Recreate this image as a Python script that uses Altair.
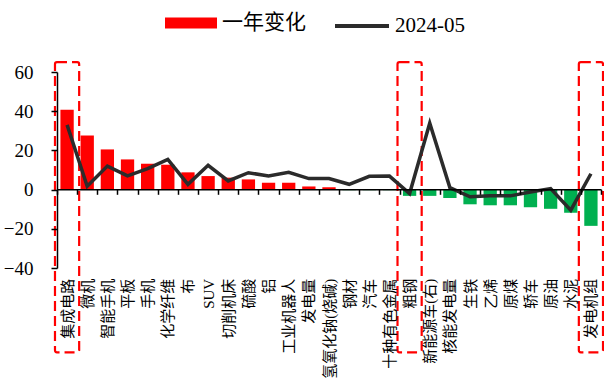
import altair as alt
import pandas as pd

# Industrial output items, ordered as on the axis
categories = [
    "集成电路", "微机", "智能手机", "平板", "手机", "化学纤维", "布", "SUV",
    "切削机床", "硫酸", "铝", "工业机器人", "发电量", "氢氧化钠(烧碱)", "钢材",
    "汽车", "十种有色金属", "粗钢", "新能源车(右)", "核能发电量", "生铁", "乙烯",
    "原煤", "轿车", "原油", "水泥", "发电机组",
]

# One-year change in growth rate (bars)
yoy_change = [
    40.8, 27.6, 20.5, 15.4, 13.2, 12.7, 8.8, 6.9, 6.1, 5.2, 3.5, 3.5, 1.6, 1.2,
    -0.3, -0.3, -0.3, -3.2, -3.2, -4.3, -7.5, -8.0, -8.0, -9.0, -9.8, -11.8, -18.5,
]

# Growth rate in 2024-05 (line)
may_2024 = [
    33.0, 1.7, 12.0, 7.0, 10.7, 15.4, 2.7, 12.4, 4.4, 8.6, 7.0, 8.8, 5.6, 5.6,
    2.7, 6.8, 6.9, -2.0, 33.9, 1.0, -3.7, -3.2, -3.2, -1.2, 0.5, -10.5, 8.1,
]

# Y-axis tick values
y_ticks = [-40, -20, 0, 20, 40, 60]

# Items framed by dashed callout boxes
highlighted = ["集成电路", "粗钢", "发电机组"]
box_top = 65
box_bottom = -83

bar_label = "一年变化"
line_label = "2024-05"

df = pd.DataFrame({
    "item": categories,
    "change": yoy_change,
    "may": may_2024,
    "bar_series": bar_label,
    "line_series": line_label,
})
boxes = pd.DataFrame({
    "item": highlighted,
    "top": [box_top] * len(highlighted),
    "bottom": [box_bottom] * len(highlighted),
})

LABEL_FONT = "Liberation Serif, Noto Sans CJK SC"

x_axis = alt.Axis(
    title=None,
    orient="bottom",
    offset=-78.7,
    domainColor="black",
    domainWidth=1.5,
    tickColor="black",
    tickWidth=1.5,
    tickSize=5,
    tickBand="extent",
    labelAngle=-90,
    labelFont=LABEL_FONT,
    labelFontSize=15,
    labelColor="black",
    labelPadding=84,
    labelOverlap=False,
    labelLimit=0,
    zindex=1,
)
x_scale = alt.Scale(paddingInner=0, paddingOuter=0)

y_scale = alt.Scale(domain=[-40, 60], nice=False)
y_axis = alt.Axis(
    title=None,
    values=y_ticks,
    grid=False,
    domainColor="black",
    domainWidth=1.5,
    tickColor="black",
    tickWidth=1.5,
    tickSize=6,
    labelFont="Liberation Serif",
    labelFontSize=19,
    labelColor="black",
    labelPadding=18,
    labelOverlap=False,
    labelFlush=False,
    zindex=1,
)


def x_enc():
    return alt.X("item:N", sort=categories, scale=x_scale, axis=x_axis)


bars = alt.Chart(df).mark_bar(width=alt.RelativeBandSize(0.66)).encode(
    x=x_enc(),
    y=alt.Y("change:Q", scale=y_scale, axis=y_axis),
    color=alt.condition(
        alt.datum.change < 0,
        alt.value("#00B050"),
        alt.Color(
            "bar_series:N",
            scale=alt.Scale(domain=[bar_label], range=["#FF0000"]),
            legend=alt.Legend(
                title=None,
                orient="none",
                legendX=108,
                legendY=-75,
                padding=0,
                symbolType="M-1,-0.21H1V0.21H-1Z",
                symbolSize=2704,
                symbolStrokeWidth=0,
                symbolOpacity=1,
                labelFont=LABEL_FONT,
                labelFontSize=21,
                labelColor="black",
                labelOffset=5,
            ),
        ),
    ),
)

frames = alt.Chart(boxes).mark_bar(
    width=alt.RelativeBandSize(1.2),
    fillOpacity=0,
    stroke="#FF0000",
    strokeWidth=2.2,
    strokeDash=[10, 5],
    cornerRadius=2,
).encode(
    x=x_enc(),
    y=alt.Y("top:Q", scale=y_scale, axis=y_axis),
    y2="bottom:Q",
)

line = alt.Chart(df).mark_line(strokeWidth=3.5).encode(
    x=x_enc(),
    y=alt.Y("may:Q", scale=y_scale, axis=y_axis),
    stroke=alt.Stroke(
        "line_series:N",
        scale=alt.Scale(domain=[line_label], range=["#2B2B2B"]),
        legend=alt.Legend(
            title=None,
            orient="none",
            legendX=276,
            legendY=-75,
            padding=0,
            symbolType="stroke",
            symbolSize=2916,
            symbolStrokeWidth=4,
            labelFont=LABEL_FONT,
            labelFontSize=21,
            labelColor="black",
            labelOffset=4,
        ),
    ),
)

chart = (
    alt.layer(bars, frames, line)
    .resolve_legend(color="independent", stroke="independent")
    .properties(
        width=544,
        height=196,
        autosize=alt.AutoSizeParams(type="none"),
        padding={"left": 57, "top": 72, "right": 3, "bottom": 115},
        background="white",
    )
    .configure_view(stroke=None)
)

chart.save("out.html", embed_options={"renderer": "svg", "actions": False})
